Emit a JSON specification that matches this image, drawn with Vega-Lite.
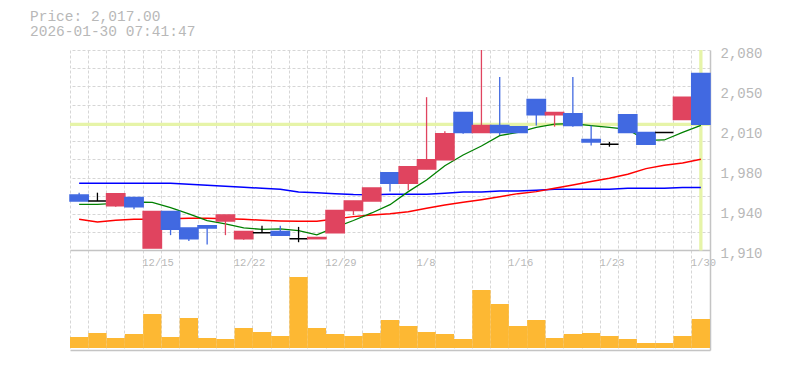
{
  "$schema": "https://vega.github.io/schema/vega-lite/v6.json",
  "width": 640,
  "height": 300,
  "autosize": "none",
  "padding": {"left": 70, "top": 50, "right": 75, "bottom": 20},
  "background": "white",
  "title": {
    "text": ["Price: 2,017.00", "2026-01-30 07:41:47"],
    "anchor": "start",
    "frame": "group",
    "dx": -40,
    "offset": 7,
    "font": "Liberation Mono",
    "fontSize": 14.5,
    "fontWeight": "normal",
    "color": "#b8b8b8",
    "lineHeight": 15
  },
  "config": {
    "view": {"stroke": null},
    "axis": {
      "labelFont": "Liberation Mono",
      "labelColor": "#b8b8b8",
      "gridColor": "#d6d6d6",
      "gridDash": [3, 2],
      "gridWidth": 1,
      "domainColor": "#c4c4c4",
      "domainWidth": 1.5,
      "ticks": false,
      "title": null
    }
  },
  "data": {
    "values": [
      {"d": "12/9", "o": 1957, "h": 1959, "l": 1952, "c": 1952, "v": 33000, "ma5": 1949.1, "ma25": 1936.4, "ma75": 1966.9},
      {"d": "12/10", "o": 1952, "h": 1959, "l": 1952, "c": 1952, "v": 45000, "ma5": 1949.1, "ma25": 1934.2, "ma75": 1966.9},
      {"d": "12/11", "o": 1948, "h": 1958, "l": 1947, "c": 1958, "v": 30000, "ma5": 1950.0, "ma25": 1935.6, "ma75": 1966.9},
      {"d": "12/12", "o": 1955, "h": 1955, "l": 1945, "c": 1947, "v": 42000, "ma5": 1951.1, "ma25": 1936.4, "ma75": 1966.9},
      {"d": "12/15", "o": 1912, "h": 1943, "l": 1912, "c": 1943, "v": 102000, "ma5": 1950.8, "ma25": 1936.4, "ma75": 1966.9},
      {"d": "12/16", "o": 1943, "h": 1943, "l": 1923, "c": 1928, "v": 33000, "ma5": 1946.3, "ma25": 1937.0, "ma75": 1966.9},
      {"d": "12/17", "o": 1929, "h": 1929, "l": 1918, "c": 1920, "v": 90000, "ma5": 1941.0, "ma25": 1937.3, "ma75": 1966.1},
      {"d": "12/18", "o": 1931, "h": 1931, "l": 1915, "c": 1929, "v": 30000, "ma5": 1935.3, "ma25": 1937.3, "ma75": 1965.3},
      {"d": "12/19", "o": 1935, "h": 1940, "l": 1923, "c": 1940, "v": 27000, "ma5": 1932.5, "ma25": 1937.0, "ma75": 1964.4},
      {"d": "12/22", "o": 1920, "h": 1926, "l": 1919, "c": 1926, "v": 60000, "ma5": 1929.1, "ma25": 1936.4, "ma75": 1963.6},
      {"d": "12/23", "o": 1925, "h": 1931, "l": 1925, "c": 1925, "v": 48000, "ma5": 1927.9, "ma25": 1935.6, "ma75": 1962.7},
      {"d": "12/24", "o": 1926, "h": 1931, "l": 1923, "c": 1923, "v": 36000, "ma5": 1928.3, "ma25": 1935.0, "ma75": 1961.9},
      {"d": "12/25", "o": 1920, "h": 1930, "l": 1917, "c": 1920, "v": 213000, "ma5": 1926.8, "ma25": 1934.7, "ma75": 1959.6},
      {"d": "12/26", "o": 1920, "h": 1921, "l": 1920, "c": 1921, "v": 60000, "ma5": 1923.2, "ma25": 1934.7, "ma75": 1958.9},
      {"d": "12/29", "o": 1925, "h": 1944, "l": 1925, "c": 1944, "v": 42000, "ma5": 1929.5, "ma25": 1936.7, "ma75": 1958.2},
      {"d": "12/30", "o": 1944, "h": 1952, "l": 1940, "c": 1952, "v": 36000, "ma5": 1935.4, "ma25": 1938.7, "ma75": 1957.5},
      {"d": "1/5", "o": 1952, "h": 1963, "l": 1952, "c": 1963, "v": 45000, "ma5": 1941.8, "ma25": 1940.1, "ma75": 1957.3},
      {"d": "1/6", "o": 1976, "h": 1976, "l": 1960, "c": 1967, "v": 84000, "ma5": 1948.8, "ma25": 1941.2, "ma75": 1957.6},
      {"d": "1/7", "o": 1967, "h": 1981, "l": 1961, "c": 1981, "v": 66000, "ma5": 1959.9, "ma25": 1942.9, "ma75": 1957.6},
      {"d": "1/8", "o": 1979, "h": 2040, "l": 1979, "c": 1987, "v": 48000, "ma5": 1969.8, "ma25": 1945.8, "ma75": 1957.6},
      {"d": "1/9", "o": 1987, "h": 2011, "l": 1987, "c": 2009, "v": 42000, "ma5": 1981.9, "ma25": 1948.6, "ma75": 1958.5},
      {"d": "1/13", "o": 2027, "h": 2027, "l": 2009, "c": 2010, "v": 27000, "ma5": 1991.0, "ma25": 1950.8, "ma75": 1959.6},
      {"d": "1/14", "o": 2010, "h": 2080, "l": 2010, "c": 2016, "v": 174000, "ma5": 1998.6, "ma25": 1953.1, "ma75": 1959.6},
      {"d": "1/15", "o": 2016, "h": 2057, "l": 2008, "c": 2010, "v": 132000, "ma5": 2007.4, "ma25": 1955.6, "ma75": 1960.4},
      {"d": "1/16", "o": 2015, "h": 2015, "l": 2010, "c": 2010, "v": 66000, "ma5": 2010.2, "ma25": 1958.2, "ma75": 1960.4},
      {"d": "1/19", "o": 2038, "h": 2038, "l": 2016, "c": 2025, "v": 84000, "ma5": 2014.4, "ma25": 1959.9, "ma75": 1961.0},
      {"d": "1/20", "o": 2025, "h": 2027, "l": 2015, "c": 2027, "v": 30000, "ma5": 2017.2, "ma25": 1962.7, "ma75": 1961.9},
      {"d": "1/21", "o": 2026, "h": 2057, "l": 2015, "c": 2016, "v": 42000, "ma5": 2017.5, "ma25": 1965.5, "ma75": 1961.9},
      {"d": "1/22", "o": 2004, "h": 2016, "l": 1999, "c": 2002, "v": 45000, "ma5": 2015.8, "ma25": 1968.4, "ma75": 1961.9},
      {"d": "1/23", "o": 2000, "h": 2002, "l": 1998, "c": 2000, "v": 36000, "ma5": 2014.4, "ma25": 1971.2, "ma75": 1961.9},
      {"d": "1/26", "o": 2025, "h": 2025, "l": 2010, "c": 2010, "v": 27000, "ma5": 2012.7, "ma25": 1974.6, "ma75": 1962.7},
      {"d": "1/27", "o": 2010, "h": 2010, "l": 2000, "c": 2000, "v": 15000, "ma5": 2003.4, "ma25": 1979.4, "ma75": 1962.7},
      {"d": "1/28", "o": 2010, "h": 2010, "l": 2010, "c": 2010, "v": 15000, "ma5": 2003.7, "ma25": 1982.2, "ma75": 1962.7},
      {"d": "1/29", "o": 2021, "h": 2040, "l": 2021, "c": 2040, "v": 36000, "ma5": 2010.2, "ma25": 1984.2, "ma75": 1963.5},
      {"d": "1/30", "o": 2060, "h": 2060, "l": 2017, "c": 2017, "v": 87000, "ma5": 2016.1, "ma25": 1987.3, "ma75": 1963.5}
    ]
  },
  "resolve": {"scale": {"y": "independent"}, "axis": {"x": "independent", "y": "independent"}},
  "layer": [
    {
      "mark": {"type": "rule", "color": "#e6f4a8", "strokeWidth": 3.3},
      "encoding": {
        "x": {"field": "d", "type": "ordinal", "sort": null, "axis": null,
          "scale": {"type": "band", "paddingInner": 0, "paddingOuter": 0,
            "domain": ["12/9","12/10","12/11","12/12","12/15","12/16","12/17","12/18","12/19","12/22","12/23","12/24","12/25","12/26","12/29","12/30","1/5","1/6","1/7","1/8","1/9","1/13","1/14","1/15","1/16","1/19","1/20","1/21","1/22","1/23","1/26","1/27","1/28","1/29","1/30"]}},
        "y": {"datum": 1910, "type": "quantitative", "axis": null, "scale": {"domain": [1825.6, 2080], "nice": false, "zero": false}},
        "y2": {"datum": 2080}
      },
      "transform": [{"filter": "datum.d == '1/30'"}]
    },
    {
      "data": {"values": [{"price": 2017}]},
      "mark": {"type": "rule", "color": "#e6f4a8", "strokeWidth": 3.3},
      "encoding": {
        "y": {"field": "price", "type": "quantitative", "axis": null, "scale": {"domain": [1825.6, 2080], "nice": false, "zero": false}}
      }
    },
    {
      "mark": {"type": "line", "color": "#0000ff", "strokeWidth": 1.5},
      "encoding": {
        "x": {"field": "d", "type": "ordinal", "sort": null, "axis": null},
        "y": {"field": "ma75", "type": "quantitative", "axis": null, "scale": {"domain": [1825.6, 2080], "nice": false, "zero": false}}
      }
    },
    {
      "mark": {"type": "line", "color": "#ff0000", "strokeWidth": 1.5},
      "encoding": {
        "x": {"field": "d", "type": "ordinal", "sort": null, "axis": null},
        "y": {"field": "ma25", "type": "quantitative", "axis": null, "scale": {"domain": [1825.6, 2080], "nice": false, "zero": false}}
      }
    },
    {
      "mark": {"type": "line", "color": "#008000", "strokeWidth": 1.3},
      "encoding": {
        "x": {"field": "d", "type": "ordinal", "sort": null, "axis": null},
        "y": {"field": "ma5", "type": "quantitative", "axis": null, "scale": {"domain": [1825.6, 2080], "nice": false, "zero": false}}
      }
    },
    {
      "mark": {"type": "rule", "strokeWidth": 1.3},
      "encoding": {
        "x": {"field": "d", "type": "ordinal", "sort": null,
          "axis": {"orient": "bottom", "bandPosition": 0, "grid": true, "labels": false, "ticks": false, "domain": true}},
        "y": {"field": "l", "type": "quantitative",
          "scale": {"domain": [1825.6, 2080], "nice": false, "zero": false},
          "axis": {"orient": "right", "grid": true, "labels": false, "ticks": false, "domain": true,
            "values": [1910, 1925.45, 1940.91, 1956.36, 1971.82, 1987.27, 2002.73, 2018.18, 2033.64, 2049.09, 2064.55, 2080]}},
        "y2": {"field": "h"},
        "color": {"condition": [{"test": "datum.c > datum.o", "value": "#e0445f"}, {"test": "datum.c < datum.o", "value": "#4169e1"}], "value": "#000000"}
      }
    },
    {
      "mark": {"type": "bar", "strokeWidth": 1.5},
      "encoding": {
        "x": {"field": "d", "type": "ordinal", "sort": null,
          "axis": {"orient": "bottom", "offset": -100, "bandPosition": 0, "grid": false, "ticks": false, "domain": true,
            "values": ["12/15", "12/22", "12/29", "1/8", "1/16", "1/23", "1/30"],
            "labelAngle": 0, "labelAlign": "left", "labelBaseline": "top", "labelPadding": 7, "labelOffset": -10,
            "labelFontSize": 10.5, "labelOverlap": false, "labelFlush": false, "labelBound": false}},
        "y": {"field": "o", "type": "quantitative",
          "scale": {"domain": [1825.6, 2080], "nice": false, "zero": false},
          "axis": {"orient": "right", "grid": false, "ticks": false, "domain": false,
            "values": [1910, 1944, 1978, 2012, 2046, 2080],
            "labelExpr": "format(round(datum.value / 10) * 10, ',')",
            "labelPadding": 10, "labelFontSize": 14, "labelOffset": 3, "labelBaseline": "middle", "labelAlign": "left", "labelOverlap": false, "labelFlush": false, "labelBound": false}},
        "y2": {"field": "c"},
        "width": {"band": 0.8},
        "fill": {"condition": [{"test": "datum.c > datum.o", "value": "#e0445f"}, {"test": "datum.c < datum.o", "value": "#4169e1"}], "value": "#000000"},
        "stroke": {"condition": [{"test": "datum.c > datum.o", "value": "#e0445f"}, {"test": "datum.c < datum.o", "value": "#4169e1"}], "value": "#000000"}
      }
    },
    {
      "mark": {"type": "bar", "color": "#fdb833"},
      "encoding": {
        "x": {"field": "d", "type": "ordinal", "sort": null, "axis": null},
        "y": {"field": "v", "type": "quantitative", "axis": null, "scale": {"domain": [-6000, 894000], "nice": false, "zero": false}},
        "y2": {"datum": 0},
        "width": {"band": 0.87}
      }
    }
  ]
}
